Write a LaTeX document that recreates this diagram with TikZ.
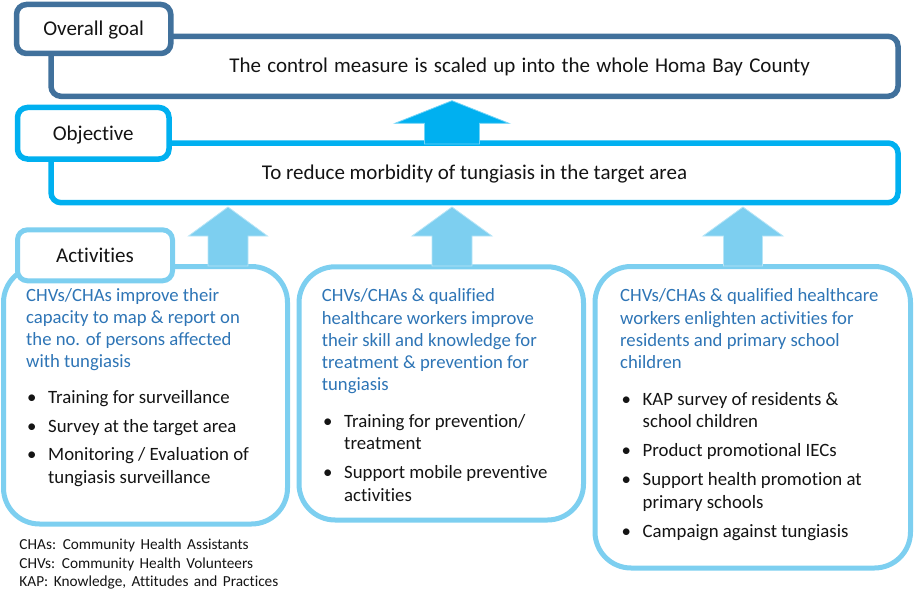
\documentclass[tikz,border=0pt]{standalone}
\usepackage{fontspec}
\setmainfont{Carlito}[Ligatures=NoCommon]
\usetikzlibrary{calc}
\definecolor{goalc}{HTML}{41719C}
\definecolor{objc}{HTML}{00B0F0}
\definecolor{actc}{HTML}{7DCFF0}
\definecolor{bluetxt}{HTML}{2E75B6}
\definecolor{txt}{HTML}{141414}
\newcommand\fatup[7]{% color, tipx, tipy, headhalf, shafthalf, headbasey, bottomy
  \filldraw[fill=#1, draw=#1!55, line width=0.8pt]
    (#2,#3) -- ++(#4,#6-#3) -- ++(-#4+#5,0) |- (#2-#5,#7) -- ++(0,#6-#7) -- ++(-#4+#5,0) -- cycle;}
\newcommand\bl[1]{\makebox[21pt][l]{\textbullet}#1}
\newcommand\cont[1]{\hspace*{21pt}#1}
\newcommand\goalsp{\spaceskip=6.3pt plus 1pt\relax}
\newcommand\notesp{\spaceskip=5.5pt plus 1pt\relax}
\begin{document}
\begin{tikzpicture}[x=1pt,y=-1pt,
  box/.style={draw, fill=white, inner sep=0pt, rounded corners=10pt},
  goalbox/.style={box, draw=goalc, line width=5.5pt},
  objbox/.style={box, draw=objc, line width=5.5pt},
  actbox/.style={box, draw=actc, line width=5pt, rounded corners=36pt},
  actlabel/.style={box, draw=actc, line width=5pt},
  head/.style={font=\fontsize{21}{24}\selectfont, text=txt, text height=13.5pt, text depth=0pt, inner sep=0pt},
  para/.style={anchor=north west, inner sep=0pt, align=left},
  blue/.style={para, text=bluetxt, font=\fontsize{18.7}{22.2}\selectfont},
  items/.style={para, text=txt, font=\fontsize{18.8}{22.2}\selectfont},
  note/.style={anchor=north west, inner sep=0pt, align=left, text=txt, font=\fontsize{15.3}{18.7}\selectfont\notesp}]
\useasboundingbox (0,0) rectangle (914,602);

% big boxes
\node[goalbox, minimum width=847pt, minimum height=60pt] (goal) at (474.5,66.3) {};
\node[head, anchor=base, font=\fontsize{21}{24}\selectfont\goalsp] (goaltext) at (519.7,72.7) {The control measure is scaled up into the whole Homa Bay County};
\node[objbox, minimum width=847pt, minimum height=59.7pt, head] (obj) at (474.5,172.85) {To reduce morbidity of tungiasis in the target area};

% activity boxes
\node[actbox, minimum width=284pt, minimum height=257.5pt] (act1) at (145.5,395.25) {};
\node[actbox, minimum width=284.5pt, minimum height=253.2pt] (act2) at (441.25,393.4) {};
\node[actbox, minimum width=315.5pt, minimum height=301.5pt] (act3) at (752.75,417.25) {};

% arrows
\fatup{objc}{452}{100.7}{57}{27.5}{123.3}{144}
\fatup{actc}{228}{207}{39.5}{20}{236}{266}
\fatup{actc}{452}{207}{40}{20}{236}{266}
\fatup{actc}{743}{207}{40}{19.5}{236}{266}

% labels
\node[goalbox, minimum width=154.3pt, minimum height=49pt, head] (goallab) at (93.65,29) {Overall goal};
\node[objbox, minimum width=151.5pt, minimum height=51.5pt, head] (objlab) at (93.25,133.25) {Objective};
\node[actlabel, minimum width=155pt, minimum height=51pt, head] (actlab) at (95,255.3) {Activities};

% box 1 texts
\node[blue] (b1) at (26,286) {\rule{0pt}{15pt}CHVs/CHAs improve their\\capacity to map \& report on\\the no. of persons affected\\with tungiasis};
\node[items] (i1) at (27,388.3) {\rule{0pt}{15pt}\bl{Training for surveillance}\\[6.5pt]\bl{Survey at the target area}\\[6.5pt]\bl{Monitoring / Evaluation of}\\\cont{tungiasis surveillance}};

% box 2 texts
\node[blue] (b2) at (321.7,286.7) {\rule{0pt}{15pt}CHVs/CHAs \& qualified\\healthcare workers improve\\their skill and knowledge for\\treatment \& prevention for\\tungiasis};
\node[items] (i2) at (323,412.3) {\rule{0pt}{15pt}\bl{Training for prevention/}\\\cont{treatment}\\[7pt]\bl{Support mobile preventive}\\\cont{activities}};

% box 3 texts
\node[blue] (b3) at (620,286.7) {\rule{0pt}{15pt}CHVs/CHAs \& qualified healthcare\\workers enlighten activities for\\residents and primary school\\children};
\node[items] (i3) at (621.5,390) {\rule{0pt}{15pt}\bl{KAP survey of residents \&}\\\cont{school children}\\[7pt]\bl{Product promotional IECs}\\[7pt]\bl{Support health promotion at}\\\cont{primary schools}\\[7pt]\bl{Campaign against tungiasis}};

% footnotes
\node[note] (notes) at (19.3,538.3) {\rule{0pt}{11pt}CHAs: Community Health Assistants\\CHVs: Community Health Volunteers\\KAP: Knowledge, Attitudes and Practices};
\end{tikzpicture}
\end{document}
